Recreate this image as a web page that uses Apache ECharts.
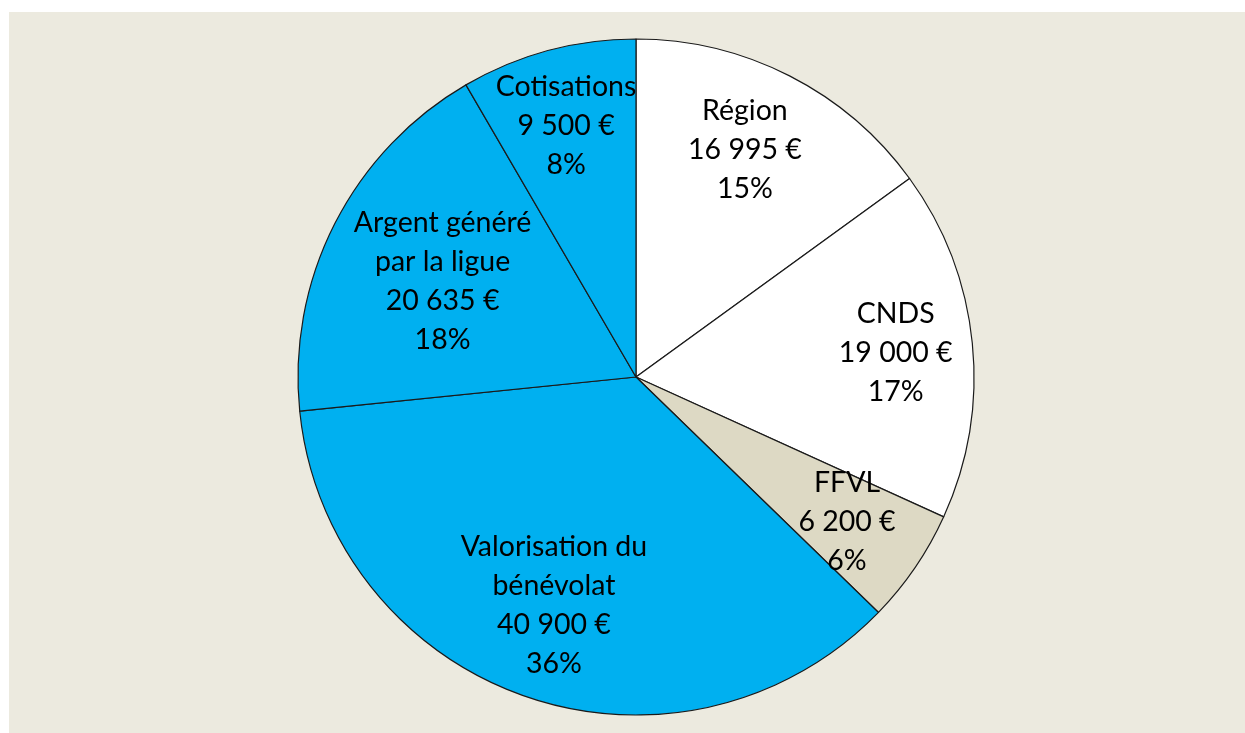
<!DOCTYPE html>
<html>
<head>
<meta charset="utf-8">
<script src="https://cdn.jsdelivr.net/npm/echarts@6/dist/echarts.min.js"></script>
<style>
html,body{margin:0;padding:0;background:#ffffff;}
#bg{position:absolute;left:9px;top:12px;right:0;bottom:0;background:#ECEADF;}
#chart{position:absolute;left:0;top:0;width:1245px;height:733px;}
</style>
</head>
<body>
<div id="bg"></div>
<div id="chart"></div>
<script>
const categories = ['Région', 'CNDS', 'FFVL', 'Valorisation du\nbénévolat', 'Argent généré\npar la ligue', 'Cotisations'];
const values = [16995, 19000, 6200, 40900, 20635, 9500];
const colors = ['#FFFFFF', '#FFFFFF', '#DDD9C4', '#00B0F0', '#00B0F0', '#00B0F0'];
const labelShift = [[-6, -2], [8, 1], [2, 2], [1, -11], [32, 19], [-4, -7]];

function fmt(v) {
  return String(v).replace(/\B(?=(\d{3})+(?!\d))/g, ' ');
}

const pieData = categories.map((c, i) => ({ name: c, value: values[i], itemStyle: { color: colors[i] } }));
const labelData = categories.map((c, i) => ({ name: c, value: values[i] }));

const chart = echarts.init(document.getElementById('chart'), null, { renderer: 'canvas' });
chart.setOption({
  backgroundColor: 'transparent',
  animation: false,
  series: [
    {
      type: 'pie',
      center: [636, 377],
      radius: [0, 338],
      startAngle: 90,
      clockwise: true,
      silent: true,
      data: pieData,
      label: { show: false },
      labelLine: { show: false },
      itemStyle: { borderColor: '#1a1a1a', borderWidth: 1.2 }
    },
    {
      type: 'pie',
      center: [636, 377],
      radius: [162, 338],
      startAngle: 90,
      clockwise: true,
      silent: true,
      percentPrecision: 0,
      data: labelData,
      itemStyle: { color: 'transparent', borderWidth: 0 },
      labelLine: { show: false },
      label: {
        show: true,
        position: 'inside',
        color: '#000000',
        fontFamily: 'Lato',
        fontSize: 28.5,
        lineHeight: 39,
        align: 'center',
        formatter: p => p.name + '\n' + fmt(p.value) + ' €\n' + p.percent + '%'
      },
      labelLayout: p => ({ dx: labelShift[p.dataIndex][0], dy: labelShift[p.dataIndex][1] })
    }
  ]
});
</script>
</body>
</html>
